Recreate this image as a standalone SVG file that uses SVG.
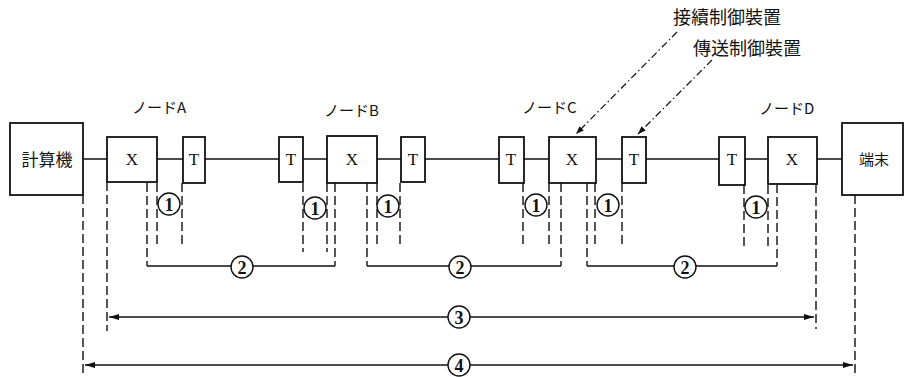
<svg xmlns="http://www.w3.org/2000/svg" width="908" height="377" viewBox="0 0 908 377">
<style>
.box{fill:#fff;stroke:#111;stroke-width:1.8}
.ln{fill:none;stroke:#111;stroke-width:1.7}
.ds{fill:none;stroke:#111;stroke-width:1.4;stroke-dasharray:9 4}
.ld{fill:none;stroke:#111;stroke-width:1.2;stroke-dasharray:7 3 1.5 3}
.cir{fill:#fff;stroke:#111;stroke-width:1.4}
.lt{font-family:"Liberation Serif",serif;font-size:17px;fill:#111;text-anchor:middle}
.num{font-family:"Liberation Serif",serif;font-size:18px;font-weight:bold;fill:#111;text-anchor:middle}
.jp{font-family:"Noto Sans CJK JP",sans-serif;fill:#111}
.nl{font-family:"Noto Sans CJK JP",sans-serif;font-size:15px;fill:#111}
</style>
<defs>
<marker id="ah" viewBox="0 0 10 6" refX="10" refY="3" markerWidth="10" markerHeight="6" markerUnits="userSpaceOnUse" orient="auto-start-reverse">
<path d="M0,0 L10,3 L0,6 Z" fill="#111"/>
</marker>
<marker id="sa" viewBox="0 0 8 6" refX="8" refY="3" markerWidth="8" markerHeight="6" markerUnits="userSpaceOnUse" orient="auto">
<path d="M0,0 L8,3 L0,6 Z" fill="#111"/>
</marker>
</defs>

<g id="connectors">
<path class="ln" d="M83,159H107 M157,159H183 M205,159H279 M303,159H327 M377,159H401 M425,159H499 M524,159H549 M596,159H622 M646,159H719 M745,159H768 M817,159H842"/>
<path class="ds" d="M157,183V247 M182,183V247 M303,183V252 M327,183V252 M377,183V246 M400,183V246 M523,183V248 M549,183V248 M595,183V246 M622,183V246 M744,185V250 M768,185V250"/>
<path class="ds" d="M147,183V266 M335,183V266 M367,183V266 M561,183V266 M587,183V266 M777,184V266"/>
<path class="ln" d="M147,266H231 M253,266H335 M367,266H449 M471,266H561 M587,266H674 M696,266H777"/>
<path class="ds" d="M107,182V331 M816,184V329 M83,195V377 M855,195V377"/>
<path class="ln" d="M448,317H109" marker-end="url(#ah)"/>
<path class="ln" d="M470,317H814" marker-end="url(#ah)"/>
<path class="ln" d="M448,365H85" marker-end="url(#ah)"/>
<path class="ln" d="M470,365H853" marker-end="url(#ah)"/>
<path class="ld" d="M677,32L576,134" marker-end="url(#sa)"/>
<path class="ld" d="M712,60L638,134" marker-end="url(#sa)"/>
</g>

<g id="span-labels">
<circle class="cir" cx="169" cy="204" r="11"/><text class="num" x="169" y="210.5">1</text>
<circle class="cir" cx="315" cy="208" r="11"/><text class="num" x="315" y="214.5">1</text>
<circle class="cir" cx="388" cy="206" r="11"/><text class="num" x="388" y="212.5">1</text>
<circle class="cir" cx="536" cy="205" r="11"/><text class="num" x="536" y="211.5">1</text>
<circle class="cir" cx="608" cy="205" r="11"/><text class="num" x="608" y="211.5">1</text>
<circle class="cir" cx="756" cy="207" r="11"/><text class="num" x="756" y="213.5">1</text>
<circle class="cir" cx="242" cy="267" r="11"/><text class="num" x="242" y="273.5">2</text>
<circle class="cir" cx="460" cy="267" r="11"/><text class="num" x="460" y="273.5">2</text>
<circle class="cir" cx="685" cy="267" r="11"/><text class="num" x="685" y="273.5">2</text>
<circle class="cir" cx="459" cy="317" r="11"/><text class="num" x="459" y="323.5">3</text>
<circle class="cir" cx="459" cy="365" r="11"/><text class="num" x="459" y="371.5">4</text>
</g>

<g id="computer">
<rect class="box" x="10" y="123" width="73" height="72"/>
<text class="jp" x="47" y="166" font-size="17" text-anchor="middle">計算機</text>
</g>

<g id="nodeA">
<text class="nl" x="132" y="113">ノードA</text>
<rect class="box" x="107" y="137" width="50" height="45"/>
<text class="lt" x="132" y="165">X</text>
<rect class="box" x="183" y="137" width="22" height="46"/>
<text class="lt" x="194" y="165">T</text>
</g>

<g id="nodeB">
<text class="nl" x="324" y="116">ノードB</text>
<rect class="box" x="279" y="137" width="24" height="45"/>
<text class="lt" x="291" y="165">T</text>
<rect class="box" x="327" y="136" width="50" height="47"/>
<text class="lt" x="352" y="165">X</text>
<rect class="box" x="401" y="137" width="24" height="45"/>
<text class="lt" x="413" y="165">T</text>
</g>

<g id="nodeC">
<text class="nl" x="522" y="113">ノードC</text>
<rect class="box" x="499" y="137" width="25" height="46"/>
<text class="lt" x="511" y="165">T</text>
<rect class="box" x="549" y="137" width="47" height="46"/>
<text class="lt" x="572" y="165">X</text>
<rect class="box" x="622" y="137" width="24" height="46"/>
<text class="lt" x="634" y="165">T</text>
</g>

<g id="nodeD">
<text class="nl" x="759" y="114">ノードD</text>
<rect class="box" x="719" y="137" width="26" height="48"/>
<text class="lt" x="732" y="165">T</text>
<rect class="box" x="768" y="137" width="49" height="47"/>
<text class="lt" x="792" y="165">X</text>
</g>

<g id="terminal">
<rect class="box" x="842" y="123" width="61" height="72"/>
<text class="jp" x="874" y="165" font-size="15" text-anchor="middle">端末</text>
</g>

<g id="callouts">
<text class="jp" x="673" y="24" font-size="18">接續制御裝置</text>
<text class="jp" x="693" y="55" font-size="18">傳送制御裝置</text>
</g>
</svg>
